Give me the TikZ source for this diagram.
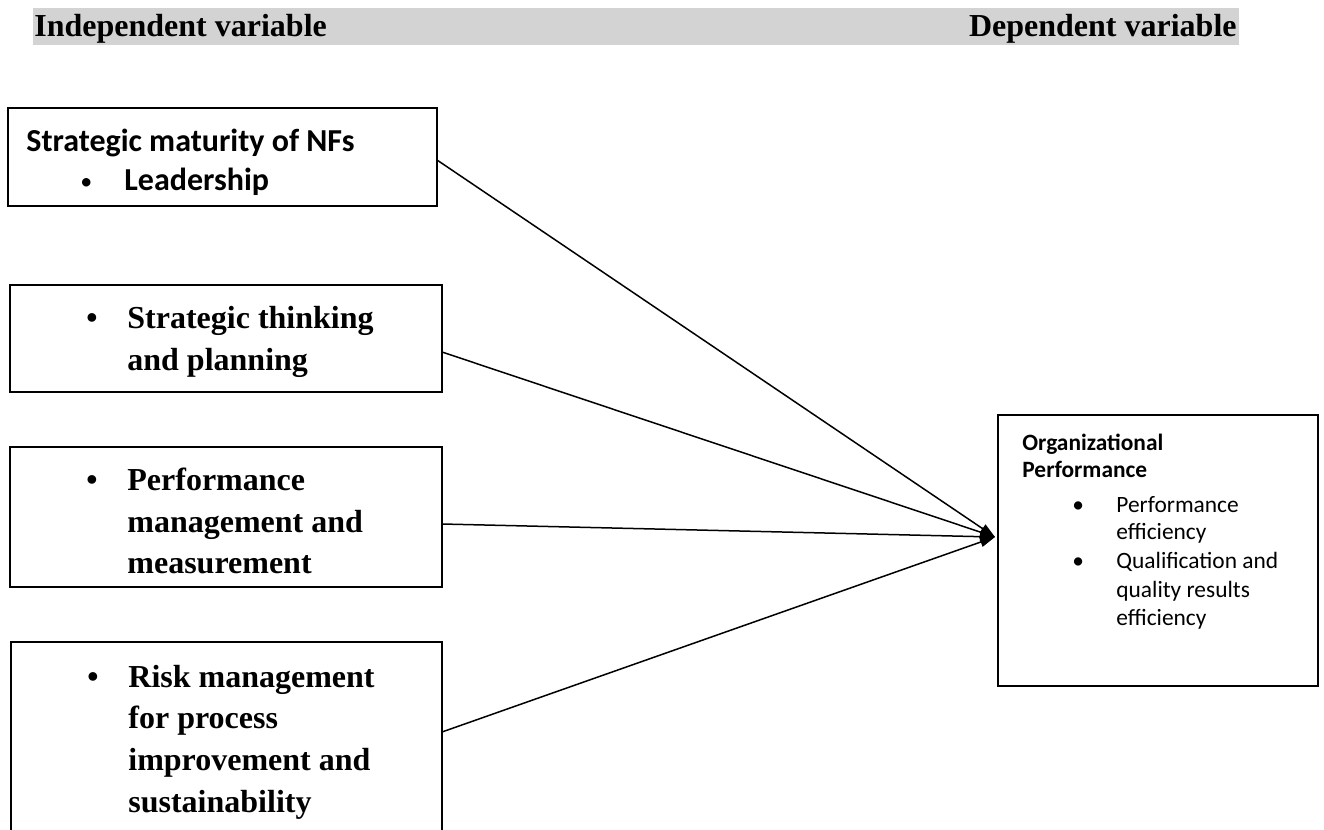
\documentclass[tikz,border=0pt]{standalone}
\usepackage{fontspec}
\setmainfont{Liberation Serif}
\newfontfamily\calfont{Carlito}
\usetikzlibrary{arrows.meta}
\definecolor{hdrgray}{RGB}{211,211,211}
\begin{document}
\begin{tikzpicture}[x=0.5pt,y=-0.5pt,
  box/.style={draw,line width=0.75pt,inner sep=0pt,outer sep=0pt},
  tms/.style={font=\fontsize{16}{21}\selectfont\bfseries,inner sep=0pt,anchor=base west},
  cb/.style={font=\calfont\fontsize{16}{20}\selectfont\bfseries,inner sep=0pt,anchor=base west},
  cbs/.style={font=\calfont\fontsize{11.7}{14}\selectfont\bfseries,inner sep=0pt,anchor=base west},
  cs/.style={font=\calfont\fontsize{11.7}{14}\selectfont,inner sep=0pt,anchor=base west},
  conn/.style={line width=0.75pt,-{Triangle[length=7.5pt,width=5pt]}}]
\useasboundingbox (0,0) rectangle (1324,830);
\clip (0,0) rectangle (1324,830);
% header bar
\fill[hdrgray] (33,8) rectangle (1239,45);
\node[tms] (indep) at (34,36) {Independent variable};
\node[tms,anchor=base east] (dep) at (1237,36) {Dependent variable};
% boxes
\node[box,minimum width=214.5pt,minimum height=49pt] (b1) at (222.5,157) {};
\node[box,minimum width=216pt,minimum height=53.5pt] (b2) at (226,338.5) {};
\node[box,minimum width=216pt,minimum height=70pt] (b3) at (226,517) {};
\node[box,minimum width=215.5pt,minimum height=104pt] (b4) at (226.5,746) {};
\node[box,minimum width=160pt,minimum height=135.5pt] (rb) at (1158,550.5) {};
% box 1 text
\node[cb] (t1a) at (26,151) {Strategic maturity of NFs};
\node[cb,font=\calfont\fontsize{12}{14}\selectfont] (t1bul) at (80,189) {\textbullet};
\node[cb] (t1b) at (124,190) {Leadership};
% box 2 text
\node[tms] (t2bul) at (86,328) {\textbullet};
\node[tms] (t2a) at (127,328) {Strategic thinking};
\node[tms] (t2b) at (127,370) {and planning};
% box 3 text
\node[tms] (t3bul) at (86,490) {\textbullet};
\node[tms] (t3a) at (127,490) {Performance};
\node[tms] (t3b) at (127,532) {management and};
\node[tms] (t3c) at (127,573) {measurement};
% box 4 text
\node[tms] (t4bul) at (87,687) {\textbullet};
\node[tms] (t4a) at (128,687) {Risk management};
\node[tms] (t4b) at (128,728) {for process};
\node[tms] (t4c) at (128,770) {improvement and};
\node[tms] (t4d) at (128,812) {sustainability};
% right box text
\node[cbs] (r1) at (1022,450) {Organizational};
\node[cbs] (r2) at (1022,477) {Performance};
\node[cs] (rbul1) at (1072,512) {\textbullet};
\node[cs] (r3) at (1116,512) {Performance};
\node[cs] (r4) at (1116,539) {efficiency};
\node[cs] (rbul2) at (1072,568) {\textbullet};
\node[cs] (r5) at (1116,568) {Qualification and};
\node[cs] (r6) at (1116,597) {quality results};
\node[cs] (r7) at (1116,625) {efficiency};
% connectors
\coordinate (tip) at (995,537);
\draw[conn] ([yshift=-1.5pt]b1.east) -- (tip);
\draw[conn] ([yshift=-6.75pt]b2.east) -- (tip);
\draw[conn] ([yshift=-3.5pt]b3.east) -- (tip);
\draw[conn] ([yshift=7pt]b4.east) -- (tip);
\end{tikzpicture}
\end{document}
